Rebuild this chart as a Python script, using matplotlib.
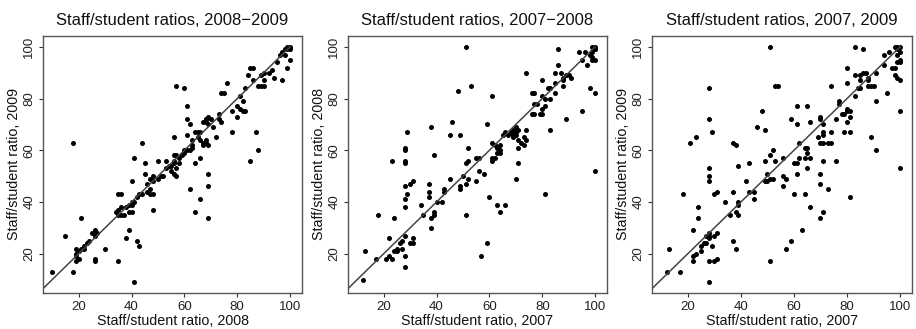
import matplotlib
matplotlib.use("Agg")
import matplotlib.pyplot as plt

plt.rcParams["font.family"] = ["Liberation Sans", "DejaVu Sans"]

# 2008 (x) vs 2009 (y)
p1_x = [100, 99, 98, 99, 97, 96, 98, 100, 99, 97, 94, 95, 93, 92, 90, 89, 90, 88, 89, 90,
        85, 86, 84, 86, 83, 82, 81, 80, 81, 80, 82, 83, 78, 76, 74, 75, 78, 73, 73, 74,
        72, 71, 70, 69, 69, 68, 67, 68, 67, 68, 69, 66, 66, 65, 64, 65, 63, 63, 62, 61,
        61, 61, 60, 57, 62, 61, 60, 60, 59, 58, 58, 57, 56, 56, 55, 56, 57, 55, 56, 57,
        56, 53, 50, 52, 53, 54, 51, 50, 48, 48, 47, 46, 47, 46, 47, 48, 45, 45, 44, 41,
        40, 43, 44, 42, 41, 40, 39, 40, 38, 39, 36, 35, 36, 35, 34, 35, 36, 37, 48, 64,
        62, 66, 66, 64, 69, 69, 69, 88, 87, 85, 30, 27, 26, 25, 26, 24, 23, 22, 22, 21,
        20, 19, 19, 19, 20, 19, 18, 21, 15, 18, 26, 26, 35, 38, 39, 42, 43, 41, 10, 40,
        68, 68, 67, 100, 63]
p1_y = [100, 100, 99, 99, 98, 97, 97, 95, 92, 87, 88, 94, 91, 90, 90, 89, 87, 85, 85, 85,
        92, 92, 89, 87, 84, 79, 81, 77, 76, 73, 75, 75, 75, 86, 82, 82, 67, 74, 72, 71,
        65, 69, 72, 73, 70, 72, 71, 63, 63, 64, 62, 64, 67, 67, 67, 65, 64, 61, 70, 72,
        77, 66, 84, 85, 60, 60, 60, 59, 58, 57, 55, 58, 58, 56, 54, 55, 53, 52, 51, 50,
        65, 56, 56, 50, 53, 54, 50, 49, 48, 50, 49, 47, 45, 44, 43, 43, 55, 51, 63, 57,
        48, 43, 43, 42, 40, 40, 39, 39, 38, 36, 43, 43, 38, 37, 36, 35, 35, 35, 37, 55,
        45, 57, 41, 36, 34, 46, 51, 60, 67, 56, 22, 28, 29, 28, 27, 25, 24, 23, 22, 22,
        21, 20, 19, 22, 18, 17, 13, 34, 27, 63, 18, 17, 17, 26, 29, 25, 23, 9, 13, 36,
        72, 71, 62, 99, 62]

# 2007 (x) vs 2008 (y)
p2_x = [51, 53, 48, 61, 74, 86, 94, 96, 99, 100, 99, 100, 98, 99, 100, 97, 95, 98, 100, 95,
        100, 89, 83, 81, 90, 91, 89, 88, 88, 88, 87, 86, 85, 85, 85, 83, 83, 82, 81, 80,
        80, 81, 80, 79, 80, 78, 77, 77, 76, 77, 76, 74, 74, 73, 73, 72, 71, 71, 70, 70,
        69, 70, 71, 69, 69, 71, 70, 66, 65, 64, 64, 63, 64, 63, 62, 61, 61, 62, 61, 60,
        59, 58, 56, 55, 56, 55, 52, 52, 51, 51, 52, 51, 50, 49, 49, 49, 45, 46, 45, 43,
        43, 42, 40, 39, 38, 39, 39, 38, 38, 37, 37, 37, 35, 34, 29, 28, 28, 28, 28, 23,
        28, 29, 28, 30, 31, 28, 18, 24, 28, 27, 31, 31, 30, 26, 27, 25, 24, 25, 22, 22,
        21, 23, 17, 13, 12, 28, 28, 57, 59, 63, 64, 66, 67, 68, 100, 99]
p2_y = [100, 85, 83, 81, 90, 99, 98, 98, 100, 100, 98, 99, 97, 96, 95, 93, 95, 84, 82, 75,
        52, 72, 68, 43, 89, 88, 89, 88, 87, 85, 90, 93, 90, 86, 82, 84, 80, 84, 80, 87,
        81, 77, 76, 74, 74, 78, 78, 74, 82, 82, 74, 68, 64, 65, 62, 63, 64, 61, 66, 67,
        68, 69, 68, 66, 65, 55, 49, 67, 66, 62, 60, 59, 59, 61, 62, 63, 57, 57, 56, 42,
        70, 51, 57, 57, 52, 48, 61, 56, 55, 47, 49, 35, 50, 46, 45, 66, 66, 71, 49, 45,
        44, 40, 40, 58, 69, 36, 35, 34, 30, 47, 44, 42, 35, 39, 67, 61, 60, 56, 55, 56,
        46, 43, 41, 47, 48, 38, 35, 34, 27, 25, 26, 24, 24, 24, 22, 22, 21, 21, 26, 19,
        18, 18, 18, 21, 10, 19, 15, 19, 24, 39, 36, 39, 66, 67, 99, 95]

# 2007 (x) vs 2009 (y)
p3_x = [51, 83, 86, 54, 53, 28, 28, 29, 21, 23, 37, 38, 46, 48, 49, 28, 28, 28, 18, 24,
        24, 22, 30, 31, 34, 39, 39, 38, 39, 39, 43, 42, 43, 45, 45, 37, 37, 38, 28, 28,
        28, 27, 30, 31, 29, 28, 30, 31, 28, 13, 12, 17, 22, 22, 23, 25, 25, 26, 27, 36,
        50, 50, 49, 51, 52, 49, 51, 52, 53, 56, 56, 56, 57, 57, 59, 51, 59, 61, 65, 61,
        62, 61, 60, 62, 64, 61, 60, 64, 63, 64, 65, 65, 66, 66, 65, 66, 70, 70, 71, 69,
        70, 71, 71, 71, 70, 70, 71, 71, 70, 73, 73, 74, 74, 74, 76, 76, 77, 77, 78, 79,
        79, 80, 80, 81, 81, 80, 81, 81, 80, 80, 83, 83, 84, 85, 85, 86, 85, 87, 88, 88,
        88, 89, 90, 89, 91, 91, 91, 94, 94, 95, 96, 97, 98, 98, 99, 100, 99, 100, 98, 99,
        100, 99, 100, 100, 99, 100, 100]
p3_y = [100, 100, 99, 85, 85, 84, 72, 67, 63, 65, 63, 62, 69, 75, 68, 53, 50, 48, 43, 38,
        34, 29, 43, 44, 40, 40, 39, 36, 35, 54, 55, 48, 44, 44, 41, 44, 25, 22, 27, 26,
        28, 27, 27, 28, 23, 17, 17, 18, 9, 22, 13, 13, 17, 19, 20, 21, 23, 24, 24, 35,
        51, 48, 48, 49, 49, 56, 58, 60, 56, 57, 50, 46, 49, 22, 25, 17, 72, 77, 77, 70,
        63, 55, 55, 57, 57, 51, 43, 43, 29, 61, 61, 59, 57, 71, 53, 38, 73, 72, 70, 65,
        63, 63, 66, 67, 51, 47, 56, 36, 34, 45, 63, 63, 67, 85, 56, 72, 78, 79, 74, 74,
        67, 76, 75, 75, 73, 71, 67, 42, 86, 92, 81, 89, 84, 84, 87, 90, 89, 90, 88, 87,
        85, 85, 85, 65, 60, 79, 90, 93, 97, 82, 98, 92, 92, 89, 88, 87, 100, 100, 100, 99,
        98, 97, 95, 94, 94, 75, 53]

panels = [
    (p1_x, p1_y, "Staff/student ratios, 2008\u22122009",
     "Staff/student ratio, 2008", "Staff/student ratio, 2009"),
    (p2_x, p2_y, "Staff/student ratios, 2007\u22122008",
     "Staff/student ratio, 2007", "Staff/student ratio, 2008"),
    (p3_x, p3_y, "Staff/student ratios, 2007, 2009",
     "Staff/student ratio, 2007", "Staff/student ratio, 2009"),
]

W, H = 916, 329
boxes = [(43, 302), (348, 607), (652, 912)]
top, bottom = 36, 293

fig = plt.figure(figsize=(W / 100, H / 100), dpi=100)

for (x, y, title, xlab, ylab), (left, right) in zip(panels, boxes):
    ax = fig.add_axes([left / W, (H - bottom) / H, (right - left) / W, (bottom - top) / H])
    ax.plot(x, y, "o", color="black", markersize=3.6, markeredgewidth=0)
    # identity line from the origin up to 100, clipped by the box
    ax.plot([0, 100], [0, 100], color="#444444", linewidth=1.1)
    ax.set_xlim(6.5, 104.5)
    ax.set_ylim(4.8, 104.2)
    ticks = [20, 40, 60, 80, 100]
    ax.set_xticks(ticks)
    ax.set_yticks(ticks)
    ax.tick_params(direction="out", length=3, width=0.8, pad=2.5, labelsize=9.5,
                   color="#333333", labelcolor="#222222")
    ax.tick_params(axis="y", labelrotation=90)
    for lab in ax.get_yticklabels():
        lab.set_va("center")
    for s in ax.spines.values():
        s.set_color("#555555")
        s.set_linewidth(1.0)
    ax.set_title(title, fontsize=12, pad=8, color="#111111")
    ax.set_xlabel(xlab, fontsize=10.3, labelpad=1, color="#111111")
    ax.set_ylabel(ylab, fontsize=10.3, labelpad=2, color="#111111")

fig.savefig("out.png", dpi=100)
